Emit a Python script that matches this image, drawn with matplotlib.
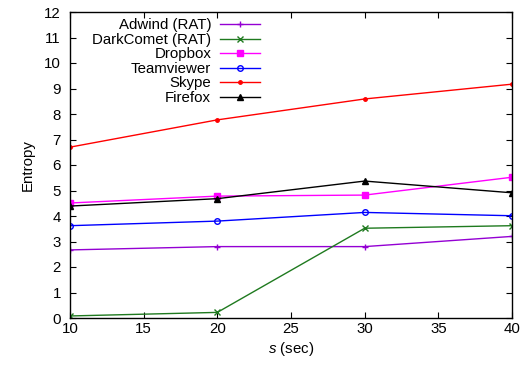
import matplotlib
matplotlib.use("Agg")
import matplotlib.pyplot as plt

# window size s (sec)
s_values = [10, 20, 30, 40]

adwind = [2.67, 2.80, 2.80, 3.20]
darkcomet = [0.08, 0.22, 3.52, 3.62]
dropbox = [4.51, 4.78, 4.82, 5.52]
teamviewer = [3.62, 3.80, 4.14, 4.01]
skype = [6.70, 7.77, 8.59, 9.17]
firefox = [4.39, 4.68, 5.37, 4.91]

labels = ["Adwind (RAT)", "DarkComet (RAT)", "Dropbox", "Teamviewer", "Skype", "Firefox"]
series = [adwind, darkcomet, dropbox, teamviewer, skype, firefox]
colors = ["#9400d3", "#1f7a1f", "#ff00ff", "#0000ff", "#ff0000", "#000000"]
markers = ["+", "x", "s", "o", ".", "^"]
marker_sizes = [5, 4, 4, 4, 5, 4]
fills = [True, True, True, False, True, True]

plt.rcParams.update({
    "font.family": ["Liberation Sans", "DejaVu Sans"],
    "font.size": 10.8,
    "mathtext.fontset": "custom",
    "mathtext.it": "Liberation Sans:italic",
    "mathtext.rm": "Liberation Sans",
})

fig = plt.figure(figsize=(5.27, 3.65), dpi=100)
ax = fig.add_axes([70 / 527, 1 - 318 / 365, 442 / 527, 306 / 365])

for y, lab, col, mk, ms, filled in zip(series, labels, colors, markers, marker_sizes, fills):
    ax.plot(
        s_values, y, color=col, linewidth=1.0, marker=mk, markersize=ms,
        markerfacecolor=col if filled else "none", markeredgecolor=col,
        markeredgewidth=1.0, label=lab,
    )

ax.set_xlim(10, 40)
ax.set_ylim(0, 12)
ax.set_xticks(range(10, 41, 5))
ax.set_yticks(range(0, 13))
ax.tick_params(direction="in", top=True, right=True, length=4, width=0.8)
ax.tick_params(axis="y", pad=6.5)
ax.tick_params(axis="x", pad=3)
for sp in ax.spines.values():
    sp.set_linewidth(1.0)

ax.set_xlabel(r"$s$ (sec)", labelpad=3)
ax.set_ylabel("Entropy", labelpad=6.5)

ax.legend(
    loc="upper right", bbox_to_anchor=(260 / 527, 1 - 18.5 / 365),
    bbox_transform=fig.transFigure, frameon=False, markerfirst=False,
    handlelength=2.7, handletextpad=0.55, labelspacing=0.03,
    borderaxespad=0, borderpad=0,
)

fig.savefig("out.png", dpi=100)
